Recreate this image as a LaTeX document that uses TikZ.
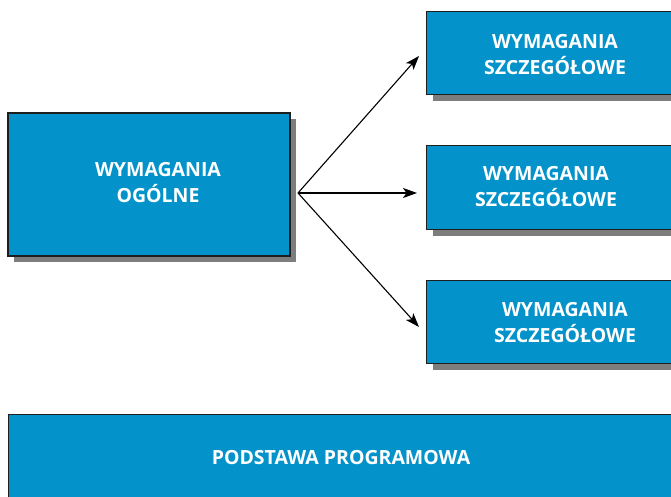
\documentclass[tikz,border=0pt]{standalone}
\usepackage{fontspec}
\setmainfont{Open Sans}
\usetikzlibrary{arrows.meta,shadows}
\definecolor{boxblue}{RGB}{3,146,201}
\definecolor{boxedge}{RGB}{30,30,30}
\definecolor{shadowgray}{RGB}{125,125,125}
\begin{document}
\begin{tikzpicture}[x=1pt,y=-1pt,
  panel/.style={draw=boxedge,line width=1.3pt,fill=boxblue,rectangle,inner sep=0pt,
    drop shadow={shadow xshift=6pt,shadow yshift=-6pt,fill=shadowgray,opacity=1}},
  caption/.style={text=white,font=\bfseries\fontsize{19.5}{26}\selectfont,align=center,inner sep=0pt},
  link/.style={line width=1.1pt,-{Stealth[length=14pt,width=10pt,inset=3.5pt]}}]
\useasboundingbox (0,0) rectangle (671,497);
\clip (0,0) rectangle (671,497);
\fill[white] (0,0) rectangle (671,497);
% general requirements
\node[panel,minimum width=282pt,minimum height=143pt] (gen) at (149,184.5) {};
\node[caption] (gent) at (158,183) {WYMAGANIA\\OGÓLNE};
% detailed requirements
\node[panel,minimum width=270pt,minimum height=83pt,anchor=north west] (d1) at (426,11) {};
\node[caption] (d1t) at (555,55) {WYMAGANIA\\SZCZEGÓŁOWE};
\node[panel,minimum width=270pt,minimum height=84pt,anchor=north west] (d2) at (426,145) {};
\node[caption] (d2t) at (546,187) {WYMAGANIA\\SZCZEGÓŁOWE};
\node[panel,minimum width=270pt,minimum height=83pt,anchor=north west] (d3) at (426,280) {};
\node[caption] (d3t) at (565,323) {WYMAGANIA\\SZCZEGÓŁOWE};
% core curriculum
\node[panel,minimum width=700pt,minimum height=100pt,anchor=north west] (base) at (8,414) {};
\node[caption] (baset) at (341,458) {PODSTAWA PROGRAMOWA};
% connectors
\coordinate (hub) at (298,193);
\coordinate (t1) at (419,56);
\coordinate (t2) at (417,193);
\coordinate (t3) at (419,327);
\draw[link] (hub) -- (t1);
\draw[link] (hub) -- (t2);
\draw[link] (hub) -- (t3);
\end{tikzpicture}
\end{document}
